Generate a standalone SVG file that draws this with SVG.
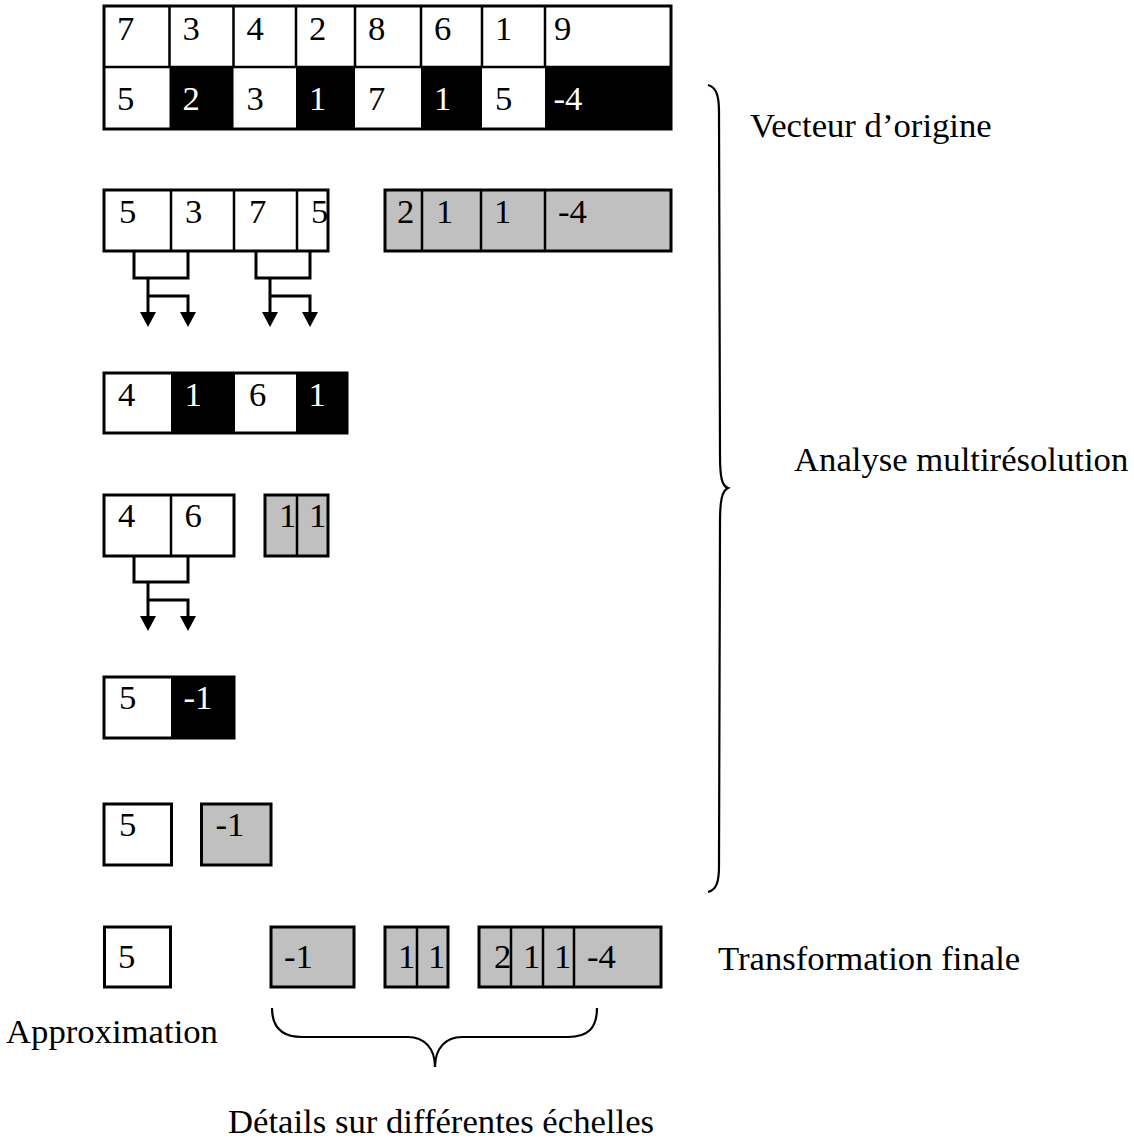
<svg xmlns="http://www.w3.org/2000/svg" width="1134" height="1141" viewBox="0 0 1134 1141">
  <style>
    text { font-family: "Liberation Serif", "Times New Roman", serif; font-size: 34.7px; fill: #000; }
    text.inv { fill: #fff; }
    .box { stroke: #000; stroke-width: 3; }
    .w { fill: #fff; }
    .k { fill: #000; }
    .g { fill: #c0c0c0; }
    .div { stroke: #000; stroke-width: 2.5; fill: none; }
    .wire { stroke: #000; stroke-width: 3; fill: none; }
    .brace { stroke: #000; stroke-width: 2.2; fill: none; }
  </style>
  <defs>
    <!-- solid triangular head; its base sits at the end of the line -->
    <marker id="arrow" viewBox="0 0 15 16" refX="0" refY="8" markerWidth="15" markerHeight="16" markerUnits="userSpaceOnUse" orient="auto">
      <path d="M0,0 L15,8 L0,16 Z" fill="#000"/>
    </marker>
  </defs>
  <rect width="1134" height="1141" fill="#fff"/>

  <!-- original vector: samples and averaged / differenced pairs -->
  <g id="original">
    <rect class="w" x="104" y="6" width="567" height="123"/>
    <rect class="k" x="169.5" y="67" width="64" height="62"/>
    <rect class="k" x="296" y="67" width="59" height="62"/>
    <rect class="k" x="421" y="67" width="61" height="62"/>
    <rect class="k" x="545" y="67" width="126" height="62"/>
    <path class="div" d="M169.5,6V67M233.5,6V67M296,6V67M355,6V67M421,6V67M482,6V67M545,6V67M104,67H671"/>
    <rect class="box" x="104" y="6" width="567" height="123" fill="none"/>
    <text x="117" y="40">7</text>
    <text x="182.5" y="40">3</text>
    <text x="246.5" y="40">4</text>
    <text x="309" y="40">2</text>
    <text x="368" y="40">8</text>
    <text x="434" y="40">6</text>
    <text x="495" y="40">1</text>
    <text x="554" y="40">9</text>
    <text x="117" y="110">5</text>
    <text class="inv" x="182.5" y="110">2</text>
    <text x="246.5" y="110">3</text>
    <text class="inv" x="309" y="110">1</text>
    <text x="368" y="110">7</text>
    <text class="inv" x="434" y="110">1</text>
    <text x="495" y="110">5</text>
    <text class="inv" x="553.5" y="110">-4</text>
  </g>

  <!-- level 1 -->
  <g id="approx-1">
    <rect class="box w" x="104" y="190" width="224" height="61"/>
    <path class="div" d="M171,190V251M234,190V251M297,190V251"/>
    <text x="119" y="223">5</text>
    <text x="185" y="223">3</text>
    <text x="249" y="223">7</text>
    <text x="311" y="223">5</text>
  </g>
  <g id="detail-1">
    <rect class="box g" x="385" y="190" width="286" height="61"/>
    <path class="div" d="M422,190V251M481,190V251M545,190V251"/>
    <text x="397" y="223">2</text>
    <text x="436" y="223">1</text>
    <text x="494" y="223">1</text>
    <text x="558" y="223">-4</text>
  </g>

  <!-- level 2 -->
  <g id="avg-diff-2">
    <rect class="w" x="104" y="373" width="243" height="60"/>
    <rect class="k" x="171" y="373" width="64" height="60"/>
    <rect class="k" x="296" y="373" width="51" height="60"/>
    <rect class="box" x="104" y="373" width="243" height="60" fill="none"/>
    <text x="118" y="406">4</text>
    <text class="inv" x="184.5" y="406">1</text>
    <text x="249" y="406">6</text>
    <text class="inv" x="308.5" y="406">1</text>
  </g>
  <g id="approx-2">
    <rect class="box w" x="104" y="495" width="130" height="61"/>
    <path class="div" d="M171,495V556"/>
    <text x="118" y="527">4</text>
    <text x="184.5" y="527">6</text>
  </g>
  <g id="detail-2">
    <rect class="box g" x="265" y="495" width="63" height="61"/>
    <path class="div" d="M297,495V556"/>
    <text x="279" y="527">1</text>
    <text x="309" y="527">1</text>
  </g>

  <!-- level 3 -->
  <g id="avg-diff-3">
    <rect class="w" x="104" y="677" width="130" height="61"/>
    <rect class="k" x="171" y="677" width="63" height="61"/>
    <rect class="box" x="104" y="677" width="130" height="61" fill="none"/>
    <text x="119" y="709">5</text>
    <text class="inv" x="183.5" y="709">-1</text>
  </g>
  <g id="approx-3">
    <rect class="box w" x="104" y="804" width="67.5" height="61"/>
    <text x="119" y="836">5</text>
  </g>
  <g id="detail-3">
    <rect class="box g" x="201.5" y="804" width="69.5" height="61"/>
    <text x="215.5" y="836">-1</text>
  </g>

  <!-- final transform -->
  <g id="final-approx">
    <rect class="box w" x="104.5" y="927" width="66" height="60"/>
    <text x="118" y="968">5</text>
  </g>
  <g id="final-detail-3">
    <rect class="box g" x="271" y="927" width="83" height="60"/>
    <text x="284" y="968">-1</text>
  </g>
  <g id="final-detail-2">
    <rect class="box g" x="385" y="927" width="63" height="60"/>
    <path class="div" d="M417,927V987"/>
    <text x="398" y="968">1</text>
    <text x="428" y="968">1</text>
  </g>
  <g id="final-detail-1">
    <rect class="box g" x="479" y="927" width="182" height="60"/>
    <path class="div" d="M511,927V987M543,927V987M574,927V987"/>
    <text x="494" y="968">2</text>
    <text x="523" y="968">1</text>
    <text x="554" y="968">1</text>
    <text x="587" y="968">-4</text>
  </g>

  <!-- pairing brackets and split arrows -->
  <g id="connectors">
    <path class="wire" d="M134,251V278H188V251"/>
    <path class="wire" d="M148,278V312" marker-end="url(#arrow)"/>
    <path class="wire" d="M148,296H188V312" marker-end="url(#arrow)"/>
    <path class="wire" d="M256,251V278H310V251"/>
    <path class="wire" d="M270,278V312" marker-end="url(#arrow)"/>
    <path class="wire" d="M270,296H310V312" marker-end="url(#arrow)"/>
    <path class="wire" d="M134,556V582H188V556"/>
    <path class="wire" d="M148,582V616" marker-end="url(#arrow)"/>
    <path class="wire" d="M148,600H188V616" marker-end="url(#arrow)"/>
  </g>

  <!-- braces and labels -->
  <g id="labels">
    <path class="brace" d="M708,85C716,87 719,95 719,112L720,455C720,478 722,486 728,488C722,491 720,500 720,522L719,866C719,883 716,890 708,892"/>
    <path class="brace" d="M272,1008C272,1028 282,1037 302,1037L408,1037C424,1037 435,1048 435,1067C435,1048 446,1037 462,1037L568,1037C588,1037 597,1028 597,1008"/>
    <text x="750" y="137">Vecteur d’origine</text>
    <text x="794" y="471">Analyse multirésolution</text>
    <text x="718" y="970">Transformation finale</text>
    <text x="6" y="1043">Approximation</text>
    <text x="228" y="1133">Détails sur différentes échelles</text>
  </g>
</svg>
